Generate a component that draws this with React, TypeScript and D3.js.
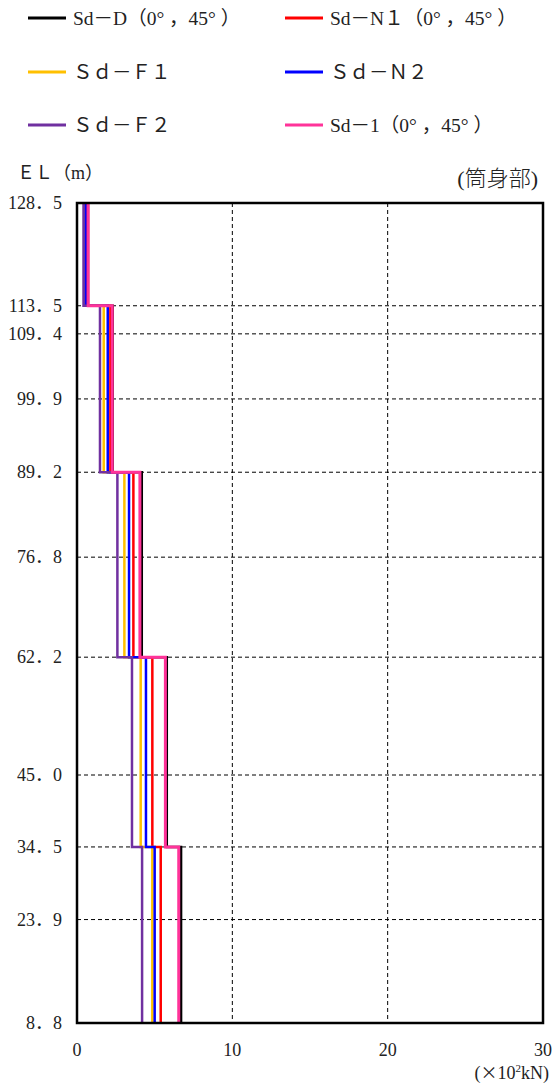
import { useEffect } from "react"
import * as d3 from "d3"

// elevation boundaries of the step segments (m)
const levels = [128.5, 113.5, 89.2, 62.2, 34.5, 8.8]
// y tick labels (elevations)
const yTicks = [128.5, 113.5, 109.4, 99.9, 89.2, 76.8, 62.2, 45.0, 34.5, 23.9, 8.8]
const xTicks = [0, 10, 20, 30]

const seriesNames = [
  "Sd－D（0° ，45° ）",
  "Sd－N１（0° ，45° ）",
  "Ｓｄ－Ｆ１",
  "Ｓｄ－Ｎ２",
  "Ｓｄ－Ｆ２",
  "Sd－1（0° ，45° ）",
]
const seriesColors = ["#000000", "#ff0000", "#ffc000", "#0000ff", "#7030a0", "#ff3399"]

// values per segment (×10²kN), top to bottom
const sdD = [0.7, 2.3, 4.17, 5.78, 6.7]
const sdN1 = [0.6, 2.15, 3.63, 4.85, 5.39]
const sdF1 = [0.5, 1.72, 3.05, 4.1, 4.85]
const sdN2 = [0.55, 1.98, 3.35, 4.44, 5.0]
const sdF2 = [0.42, 1.48, 2.6, 3.54, 4.19]
const sd1 = [0.72, 2.27, 4.05, 5.69, 6.55]
const seriesValues = [sdD, sdN1, sdF1, sdN2, sdF2, sd1]

const W = 555
const H = 1086
const margin = { top: 203, right: 12, bottom: 63, left: 77 }

const txt = {
  fontFamily: "'Liberation Serif', 'Noto Sans CJK JP', serif",
  fontWeight: 400,
  fill: "#222",
} as const

export default function App() {
  useEffect(() => {
    document.body.style.margin = "0"
  }, [])

  const x = d3.scaleLinear().domain([0, 30]).range([margin.left, W - margin.right])
  const y = d3
    .scaleLinear()
    .domain([8.8, 128.5])
    .range([H - margin.bottom, margin.top])

  const line = d3
    .line<[number, number]>()
    .x((d) => x(d[0]))
    .y((d) => y(d[1]))

  const pathFor = (vals: number[]) => {
    const pts: [number, number][] = []
    vals.forEach((v, i) => {
      pts.push([v, levels[i]])
      pts.push([v, levels[i + 1]])
    })
    return line(pts) || ""
  }

  const fmt = (v: number) => d3.format(".1f")(v).replace(".", "．")

  // legend layout: two columns, three rows
  const legendPos = [
    [28, 18],
    [285, 18],
    [28, 72],
    [285, 72],
    [28, 125],
    [285, 125],
  ]

  return (
    <svg width={W} height={H} style={{ display: "block", background: "#fff" }}>
      {/* legend */}
      {seriesNames.map((name, i) => (
        <g key={name} transform={`translate(${legendPos[i][0]},${legendPos[i][1]})`}>
          <line x1={0} x2={38} y1={0} y2={0} stroke={seriesColors[i]} strokeWidth={3} />
          <text x={45} y={7} style={{ ...txt, fontSize: 19.5 }}>
            {name}
          </text>
        </g>
      ))}

      <text x={17} y={179} style={{ ...txt, fontSize: 18 }}>
        ＥＬ（m）
      </text>
      <text x={538} y={186} textAnchor="end" style={{ ...txt, fontSize: 22, fontWeight: 300 }}>
        (筒身部)
      </text>

      {/* grid */}
      {yTicks.slice(1, -1).map((t) => (
        <line
          key={t}
          x1={x(0)}
          x2={x(30)}
          y1={y(t)}
          y2={y(t)}
          stroke="#000"
          strokeWidth={1}
          strokeDasharray="4,3"
        />
      ))}
      {xTicks.slice(1, -1).map((t) => (
        <line
          key={t}
          x1={x(t)}
          x2={x(t)}
          y1={y(128.5)}
          y2={y(8.8)}
          stroke="#000"
          strokeWidth={1}
          strokeDasharray="4,3"
        />
      ))}

      {/* series */}
      {seriesValues.map((vals, i) => (
        <path
          key={i}
          d={pathFor(vals)}
          fill="none"
          stroke={seriesColors[i]}
          strokeWidth={i === 5 ? 3 : 2.5}
        />
      ))}

      {/* frame */}
      <rect
        x={x(0)}
        y={y(128.5)}
        width={x(30) - x(0)}
        height={y(8.8) - y(128.5)}
        fill="none"
        stroke="#000"
        strokeWidth={2.5}
      />

      {/* y tick labels */}
      {yTicks.map((t) => (
        <text key={t} x={62} y={y(t) + 6} textAnchor="end" style={{ ...txt, fontSize: 18 }}>
          {fmt(t)}
        </text>
      ))}

      {/* x tick labels */}
      {xTicks.map((t) => (
        <text key={t} x={x(t)} y={1056} textAnchor="middle" style={{ ...txt, fontSize: 18 }}>
          {t}
        </text>
      ))}
      <text x={549} y={1079} textAnchor="end" style={{ ...txt, fontSize: 18 }}>
        (<tspan style={{ fontFamily: "'Noto Sans CJK JP'", fontSize: 17 }}>×</tspan>10
        <tspan style={{ fontSize: 11 }} dy={-7}>2</tspan>
        <tspan dy={7}>kN)</tspan>
      </text>
    </svg>
  )
}
